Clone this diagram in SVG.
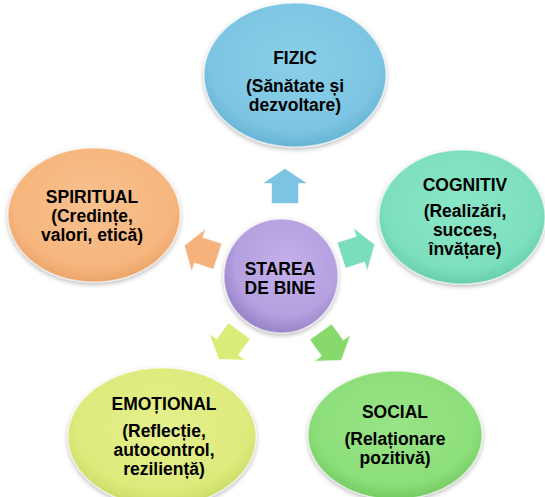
<svg xmlns="http://www.w3.org/2000/svg" width="545" height="497" viewBox="0 0 545 497">
<defs>
<filter id="sh" x="-20%" y="-20%" width="140%" height="140%">
<feGaussianBlur in="SourceAlpha" stdDeviation="2.5"/>
<feOffset dx="0" dy="2" result="b"/>
<feComponentTransfer><feFuncA type="linear" slope="0.3"/></feComponentTransfer>
<feMerge><feMergeNode/><feMergeNode in="SourceGraphic"/></feMerge>
</filter>
<radialGradient id="gBlue" cx="50%" cy="42%" r="58%"><stop offset="0" stop-color="#8ACFE8"/><stop offset="0.8" stop-color="#7CC5E2"/><stop offset="1" stop-color="#66B3D4"/></radialGradient>
<radialGradient id="gOrange" cx="50%" cy="42%" r="58%"><stop offset="0" stop-color="#F8C18E"/><stop offset="0.8" stop-color="#F6B67E"/><stop offset="1" stop-color="#EBA468"/></radialGradient>
<radialGradient id="gTeal" cx="50%" cy="42%" r="58%"><stop offset="0" stop-color="#8AE6C6"/><stop offset="0.8" stop-color="#7DDFBE"/><stop offset="1" stop-color="#68CFAA"/></radialGradient>
<radialGradient id="gYellow" cx="50%" cy="42%" r="58%"><stop offset="0" stop-color="#E6F08C"/><stop offset="0.8" stop-color="#DDEA7C"/><stop offset="1" stop-color="#CBDB66"/></radialGradient>
<radialGradient id="gGreen" cx="50%" cy="42%" r="58%"><stop offset="0" stop-color="#98E488"/><stop offset="0.8" stop-color="#8CDE7A"/><stop offset="1" stop-color="#74CC62"/></radialGradient>
<radialGradient id="gPurple" cx="55%" cy="40%" r="60%"><stop offset="0" stop-color="#C3B0EA"/><stop offset="0.75" stop-color="#B5A0E0"/><stop offset="1" stop-color="#9885C9"/></radialGradient>
<path id="arr" d="M-17.5,-13.5 L2.5,-13.5 L2.5,-22.5 L17.5,0 L2.5,22.5 L2.5,13.5 L-17.5,13.5 Z"/>
</defs>
<style>
.t{font-family:"Liberation Sans",Arial,sans-serif;font-weight:bold;font-size:17.5px;fill:#000;text-anchor:middle}
.rim{stroke:#ffffff;stroke-opacity:0.45;stroke-width:1.5}
.a{stroke:#ffffff;stroke-opacity:0.5;stroke-width:1;stroke-linejoin:round}
</style>
<g id="connectors">
<use href="#arr" transform="translate(285,186) rotate(-90)" fill="#7CC4E2" class="a"/>
<use href="#arr" transform="translate(358,250) rotate(-18)" fill="#7ADDBE" class="a"/>
<use href="#arr" transform="translate(331,346) rotate(54)" fill="#88D96C" class="a"/>
<use href="#arr" transform="translate(229,345) rotate(126)" fill="#DCEC78" class="a"/>
<use href="#arr" transform="translate(201,251) rotate(198)" fill="#F5B27C" class="a"/>
</g>
<g id="center">
<circle cx="281" cy="276" r="57" fill="url(#gPurple)" class="rim" filter="url(#sh)"/>
<text class="t" x="280" y="275">STAREA</text>
<text class="t" x="280" y="294">DE BINE</text>
</g>
<g id="fizic">
<ellipse cx="295" cy="75" rx="91" ry="72" fill="url(#gBlue)" class="rim" filter="url(#sh)"/>
<text class="t" x="295" y="64">FIZIC</text>
<text class="t" x="295" y="92">(Sănătate și</text>
<text class="t" x="295" y="111">dezvoltare)</text>
</g>
<g id="cognitiv">
<ellipse cx="462" cy="217" rx="83" ry="67" fill="url(#gTeal)" class="rim" filter="url(#sh)"/>
<text class="t" x="465" y="191">COGNITIV</text>
<text class="t" x="465" y="217">(Realizări,</text>
<text class="t" x="465" y="236">succes,</text>
<text class="t" x="465" y="255">învățare)</text>
</g>
<g id="social">
<ellipse cx="395" cy="435" rx="87" ry="64" fill="url(#gGreen)" class="rim" filter="url(#sh)"/>
<text class="t" x="395" y="418">SOCIAL</text>
<text class="t" x="395" y="445">(Relaționare</text>
<text class="t" x="395" y="464">pozitivă)</text>
</g>
<g id="emotional">
<ellipse cx="162" cy="437" rx="94" ry="69" fill="url(#gYellow)" class="rim" filter="url(#sh)"/>
<text class="t" x="164" y="410">EMOȚIONAL</text>
<text class="t" x="164" y="437">(Reflecție,</text>
<text class="t" x="164" y="456">autocontrol,</text>
<text class="t" x="164" y="475">reziliență)</text>
</g>
<g id="spiritual">
<ellipse cx="94" cy="215" rx="86" ry="67" fill="url(#gOrange)" class="rim" filter="url(#sh)"/>
<text class="t" x="92" y="203">SPIRITUAL</text>
<text class="t" x="92" y="222">(Credințe,</text>
<text class="t" x="92" y="241">valori, etică)</text>
</g>
</svg>
